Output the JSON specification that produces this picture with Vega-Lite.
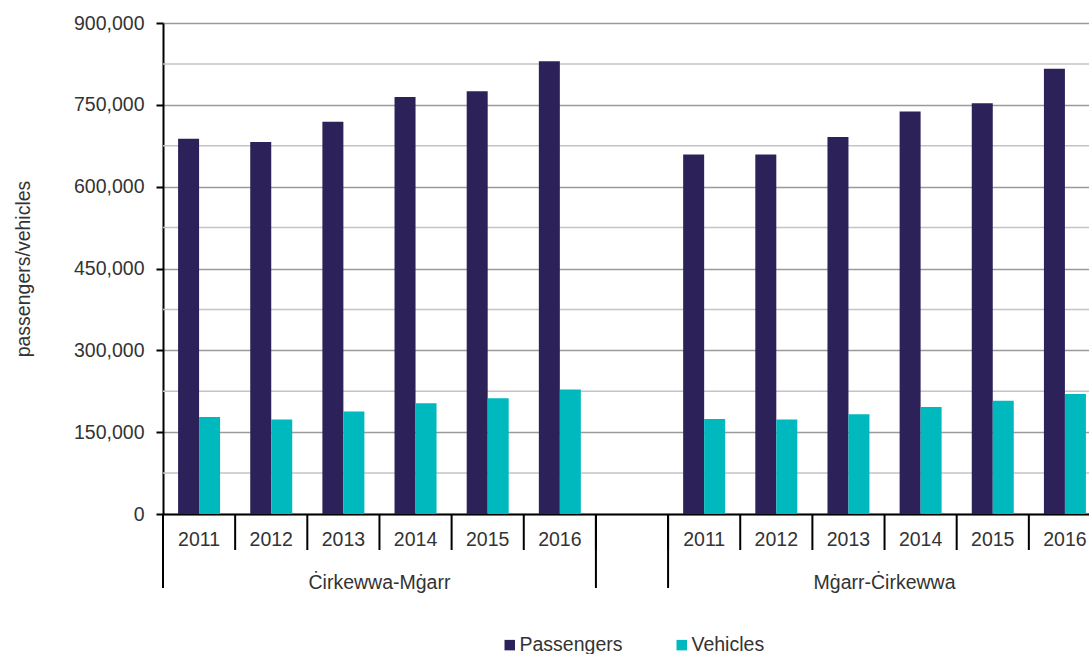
{
  "$schema": "https://vega.github.io/schema/vega-lite/v6.json",
  "width": 926,
  "height": 491,
  "autosize": {"type": "none"},
  "padding": {"left": 163, "top": 23, "right": 0, "bottom": 140},
  "background": "white",
  "config": {
    "view": {"stroke": null},
    "font": "Liberation Sans"
  },
  "datasets": {
    "traffic": [
      {"route": "Ċirkewwa-Mġarr", "year": "2011", "series": "Passengers", "value": 688000},
      {"route": "Ċirkewwa-Mġarr", "year": "2012", "series": "Passengers", "value": 682000},
      {"route": "Ċirkewwa-Mġarr", "year": "2013", "series": "Passengers", "value": 719000},
      {"route": "Ċirkewwa-Mġarr", "year": "2014", "series": "Passengers", "value": 764500},
      {"route": "Ċirkewwa-Mġarr", "year": "2015", "series": "Passengers", "value": 775000},
      {"route": "Ċirkewwa-Mġarr", "year": "2016", "series": "Passengers", "value": 830000},
      {"route": "Ċirkewwa-Mġarr", "year": "2011", "series": "Vehicles", "value": 177600},
      {"route": "Ċirkewwa-Mġarr", "year": "2012", "series": "Vehicles", "value": 173000},
      {"route": "Ċirkewwa-Mġarr", "year": "2013", "series": "Vehicles", "value": 188000},
      {"route": "Ċirkewwa-Mġarr", "year": "2014", "series": "Vehicles", "value": 203000},
      {"route": "Ċirkewwa-Mġarr", "year": "2015", "series": "Vehicles", "value": 212000},
      {"route": "Ċirkewwa-Mġarr", "year": "2016", "series": "Vehicles", "value": 228000},
      {"route": "Mġarr-Ċirkewwa", "year": "2011", "series": "Passengers", "value": 659000},
      {"route": "Mġarr-Ċirkewwa", "year": "2012", "series": "Passengers", "value": 659000},
      {"route": "Mġarr-Ċirkewwa", "year": "2013", "series": "Passengers", "value": 691000},
      {"route": "Mġarr-Ċirkewwa", "year": "2014", "series": "Passengers", "value": 738000},
      {"route": "Mġarr-Ċirkewwa", "year": "2015", "series": "Passengers", "value": 753000},
      {"route": "Mġarr-Ċirkewwa", "year": "2016", "series": "Passengers", "value": 816000},
      {"route": "Mġarr-Ċirkewwa", "year": "2011", "series": "Vehicles", "value": 174000},
      {"route": "Mġarr-Ċirkewwa", "year": "2012", "series": "Vehicles", "value": 173000},
      {"route": "Mġarr-Ċirkewwa", "year": "2013", "series": "Vehicles", "value": 183000},
      {"route": "Mġarr-Ċirkewwa", "year": "2014", "series": "Vehicles", "value": 196000},
      {"route": "Mġarr-Ċirkewwa", "year": "2015", "series": "Vehicles", "value": 207500},
      {"route": "Mġarr-Ċirkewwa", "year": "2016", "series": "Vehicles", "value": 220000}
    ],
    "minorGrid": [
      {"level": 75000}, {"level": 225000}, {"level": 375000}, {"level": 525000}, {"level": 675000}, {"level": 825000}
    ],
    "yearBounds": [
      {"route": "Ċirkewwa-Mġarr", "year": "2011"},
      {"route": "Ċirkewwa-Mġarr", "year": "2012"},
      {"route": "Ċirkewwa-Mġarr", "year": "2013"},
      {"route": "Ċirkewwa-Mġarr", "year": "2014"},
      {"route": "Ċirkewwa-Mġarr", "year": "2015"},
      {"route": "Ċirkewwa-Mġarr", "year": "2016"},
      {"route": "", "year": ""},
      {"route": "Mġarr-Ċirkewwa", "year": "2011"},
      {"route": "Mġarr-Ċirkewwa", "year": "2012"},
      {"route": "Mġarr-Ċirkewwa", "year": "2013"},
      {"route": "Mġarr-Ċirkewwa", "year": "2014"},
      {"route": "Mġarr-Ċirkewwa", "year": "2015"},
      {"route": "Mġarr-Ċirkewwa", "year": "2016"}
    ],
    "groupBounds": [
      {"route": "Ċirkewwa-Mġarr", "year": "2011"},
      {"route": "", "year": ""},
      {"route": "Mġarr-Ċirkewwa", "year": "2011"}
    ],
    "groupLabels": [
      {"route": "Ċirkewwa-Mġarr", "year": "2014"},
      {"route": "Mġarr-Ċirkewwa", "year": "2014"}
    ]
  },
  "encoding": {
    "x": {
      "field": "slot",
      "type": "nominal",
      "sort": null,
      "scale": {
        "domain": ["2011", "2012", "2013", "2014", "2015", "2016", " ", "\u00a02011\u00a0", "\u00a02012\u00a0", "\u00a02013\u00a0", "\u00a02014\u00a0", "\u00a02015\u00a0", "\u00a02016\u00a0"],
        "range": [0, 938],
        "paddingInner": 0,
        "paddingOuter": 0
      },
      "axis": {
        "title": null,
        "labelAngle": 0,
        "ticks": false,
        "domainColor": "black",
        "domainWidth": 2,
        "labelPadding": 16,
        "labelFontSize": 19.5,
        "labelColor": "#333333",
        "grid": false
      }
    }
  },
  "layer": [
    {
      "data": {"name": "minorGrid"},
      "mark": {"type": "rule", "color": "#c4c4c8", "strokeWidth": 1.5},
      "encoding": {
        "x": null,
        "y": {"field": "level", "type": "quantitative"}
      }
    },
    {
      "data": {"name": "traffic"},
      "transform": [
        {"calculate": "datum.route == 'Ċirkewwa-Mġarr' ? datum.year : (datum.route == 'Mġarr-Ċirkewwa' ? '\u00a0' + datum.year + '\u00a0' : ' ')", "as": "slot"},
        {"filter": "datum.series == 'Passengers'"}
      ],
      "mark": {"type": "bar", "width": 21, "xOffset": -10.5},
      "encoding": {
        "y": {
          "field": "value",
          "type": "quantitative",
          "scale": {"domain": [0, 900000], "nice": false},
          "axis": {
            "title": "passengers/vehicles",
            "titleFontSize": 19.5,
            "titleFontWeight": "normal",
            "titleColor": "#333333",
            "titlePadding": 40,
            "values": [0, 150000, 300000, 450000, 600000, 750000, 900000],
            "labelFontSize": 19.5,
            "labelColor": "#333333",
            "labelPadding": 12,
            "tickSize": 7,
            "tickWidth": 2,
            "tickColor": "black",
            "domainColor": "black",
            "domainWidth": 2,
            "grid": true,
            "gridWidth": 1.5,
            "gridColor": "#9a9a9a"
          }
        },
        "color": {
          "field": "series",
          "type": "nominal",
          "scale": {"domain": ["Passengers", "Vehicles"], "range": ["#2C2259", "#00B9BE"]},
          "legend": {
            "title": null,
            "orient": "none",
            "legendX": 337,
            "legendY": 612,
            "direction": "horizontal",
            "symbolType": "square",
            "symbolSize": 110,
            "labelFontSize": 19.5,
            "labelColor": "#333333",
            "labelOffset": 0,
            "columnPadding": 49
          }
        }
      }
    },
    {
      "data": {"name": "traffic"},
      "transform": [
        {"calculate": "datum.route == 'Ċirkewwa-Mġarr' ? datum.year : (datum.route == 'Mġarr-Ċirkewwa' ? '\u00a0' + datum.year + '\u00a0' : ' ')", "as": "slot"},
        {"filter": "datum.series == 'Vehicles'"}
      ],
      "mark": {"type": "bar", "width": 21, "xOffset": 10.5},
      "encoding": {
        "y": {"field": "value", "type": "quantitative"},
        "color": {"field": "series", "type": "nominal"}
      }
    },
    {
      "data": {"name": "yearBounds"},
      "transform": [
        {"calculate": "datum.route == 'Ċirkewwa-Mġarr' ? datum.year : (datum.route == 'Mġarr-Ċirkewwa' ? '\u00a0' + datum.year + '\u00a0' : ' ')", "as": "slot"}
      ],
      "mark": {"type": "rule", "color": "black", "strokeWidth": 2},
      "encoding": {
        "x": {"field": "slot", "type": "nominal", "bandPosition": 0},
        "y": {"datum": 0},
        "y2": {"datum": -66000}
      }
    },
    {
      "data": {"name": "groupBounds"},
      "transform": [
        {"calculate": "datum.route == 'Ċirkewwa-Mġarr' ? datum.year : (datum.route == 'Mġarr-Ċirkewwa' ? '\u00a0' + datum.year + '\u00a0' : ' ')", "as": "slot"}
      ],
      "mark": {"type": "rule", "color": "black", "strokeWidth": 2},
      "encoding": {
        "x": {"field": "slot", "type": "nominal", "bandPosition": 0},
        "y": {"datum": 0},
        "y2": {"datum": -135600}
      }
    },
    {
      "data": {"name": "groupLabels"},
      "transform": [
        {"calculate": "datum.route == 'Ċirkewwa-Mġarr' ? datum.year : (datum.route == 'Mġarr-Ċirkewwa' ? '\u00a0' + datum.year + '\u00a0' : ' ')", "as": "slot"}
      ],
      "mark": {"type": "text", "fontSize": 19.5, "color": "#333333", "baseline": "alphabetic", "align": "center"},
      "encoding": {
        "x": {"field": "slot", "type": "nominal", "bandPosition": 0},
        "y": {"datum": -137500},
        "text": {"field": "route"}
      }
    }
  ]
}
